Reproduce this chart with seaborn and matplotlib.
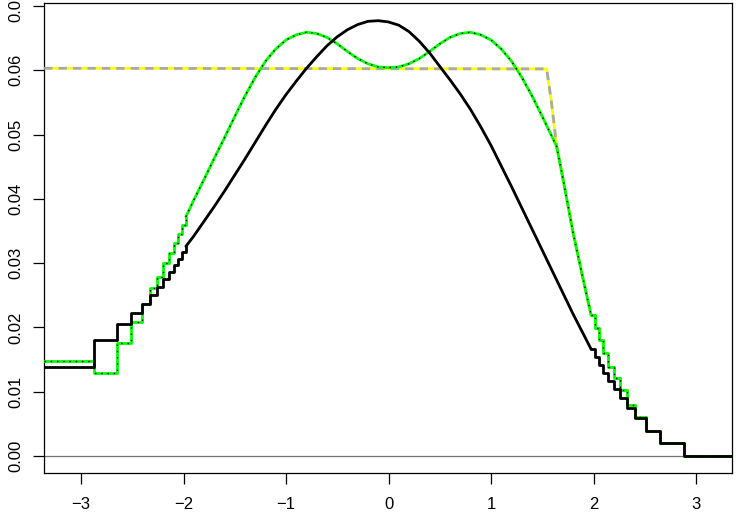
import matplotlib
matplotlib.use("Agg")
import matplotlib.pyplot as plt
import numpy as np
import seaborn as sns

# step knots in the tails
left_knots = [-3.36, -2.878, -2.652, -2.512, -2.409, -2.326, -2.257, -2.197,
              -2.144, -2.097, -2.054, -2.014, -1.977]
right_knots = [1.977, 2.014, 2.054, 2.097, 2.144, 2.197, 2.257, 2.326,
               2.409, 2.512, 2.652, 2.878, 3.36]

black_left = [0.0139, 0.0180, 0.0205, 0.0222, 0.0237, 0.0250, 0.0263, 0.0275,
              0.0286, 0.0297, 0.0307, 0.0317, 0.0326]
black_right = [0.0166, 0.0154, 0.0142, 0.0129, 0.0117, 0.0104, 0.0091, 0.0075,
               0.0059, 0.0039, 0.0020, 0.0, 0.0]
green_left = [0.0148, 0.0129, 0.0175, 0.0209, 0.0237, 0.0261, 0.0279, 0.0300,
              0.0315, 0.0331, 0.0346, 0.0359, 0.0372]
green_right = [0.0219, 0.0199, 0.0180, 0.0160, 0.0139, 0.0121, 0.0102, 0.0079,
               0.0060, 0.0039, 0.0020, 0.0, 0.0]

# smooth middle part
black_mid_x = [-1.977, -1.9, -1.8, -1.7, -1.6, -1.5, -1.4, -1.3, -1.2, -1.1, -1.0,
               -0.9, -0.8, -0.7, -0.6, -0.5, -0.4, -0.3, -0.2, -0.1, 0.0,
               0.1, 0.2, 0.3, 0.4, 0.5, 0.6, 0.7, 0.8, 0.9, 1.0,
               1.1, 1.2, 1.3, 1.4, 1.5, 1.6, 1.7, 1.8, 1.9, 1.977]
black_mid_y = [0.0326, 0.0342, 0.0365, 0.0388, 0.0412, 0.0437, 0.0462, 0.0488, 0.0514, 0.0539, 0.0562,
               0.0583, 0.0603, 0.0621, 0.0638, 0.0652, 0.0663, 0.0671, 0.0676, 0.0677, 0.0675,
               0.0670, 0.0660, 0.0645, 0.0627, 0.0606, 0.0585, 0.0563, 0.0539, 0.0512, 0.0483,
               0.0451, 0.0419, 0.0386, 0.0353, 0.0320, 0.0287, 0.0254, 0.0221, 0.0190, 0.0166]

green_mid_x = [-1.977, -1.9, -1.8, -1.7, -1.6, -1.5, -1.4, -1.3, -1.2, -1.1, -1.0,
               -0.9, -0.8, -0.7, -0.6, -0.5, -0.4, -0.3, -0.2, -0.1, 0.0,
               0.1, 0.2, 0.3, 0.4, 0.5, 0.6, 0.7, 0.8, 0.9, 1.0,
               1.1, 1.2, 1.3, 1.4, 1.5, 1.6, 1.641, 1.7, 1.8, 1.9, 1.977]
green_mid_y = [0.0372, 0.0398, 0.0430, 0.0463, 0.0495, 0.0528, 0.0560, 0.0589, 0.0614, 0.0633, 0.0647,
               0.0655, 0.0659, 0.0657, 0.0651, 0.0641, 0.0629, 0.0618, 0.0610, 0.0605, 0.0604,
               0.0605, 0.0610, 0.0618, 0.0629, 0.0641, 0.0651, 0.0657, 0.0659, 0.0655, 0.0647,
               0.0633, 0.0614, 0.0589, 0.0560, 0.0528, 0.0495, 0.0481, 0.0433, 0.0348, 0.0274, 0.0219]

# flat part of the yellow curve, then it follows the green one
yellow_head_x = [-3.36, 1.543, 1.59, 1.641]
yellow_head_y = [0.0603, 0.0602, 0.0550, 0.0481]

yticks = [0.0, 0.01, 0.02, 0.03, 0.04, 0.05, 0.06, 0.07]
xticks = [-3, -2, -1, 0, 1, 2, 3]

sns.set_style("ticks")
plt.rcParams['font.family'] = ['Liberation Sans', 'DejaVu Sans']

fig = plt.figure(figsize=(7.36, 5.18), dpi=100)
ax = fig.add_axes([44 / 736, 1 - 473 / 518, 688 / 736, 470 / 518])

ax.axhline(0, color='0.45', lw=0.9, zorder=1)

tail_x = [x for x in green_mid_x if x > 1.641]
tail_y = [y for x, y in zip(green_mid_x, green_mid_y) if x > 1.641]
yx = yellow_head_x + tail_x
yy = yellow_head_y + tail_y


def draw(xs, ys, steps=False, **kw):
    if steps:
        kw['drawstyle'] = 'steps-post'
    sns.lineplot(x=xs, y=ys, sort=False, estimator=None, ax=ax, **kw)


# yellow with grey dashes
for steps, xs, ys in [(False, yx, yy), (True, right_knots, green_right)]:
    draw(xs, ys, steps, color='#ffff00', lw=2, zorder=2)
    draw(xs, ys, steps, color='#a9a9a9', lw=2, dashes=(3, 2.2), zorder=3)

# green with black dots
for steps, xs, ys in [(True, left_knots, green_left), (False, green_mid_x, green_mid_y),
                      (True, right_knots, green_right)]:
    draw(xs, ys, steps, color='#00ff00', lw=2, zorder=4)
    draw(xs, ys, steps, color='black', lw=1, dashes=(1, 3.5), zorder=5)

# black solid
for steps, xs, ys in [(True, left_knots, black_left), (False, black_mid_x, black_mid_y),
                      (True, right_knots, black_right)]:
    draw(xs, ys, steps, color='black', lw=2, zorder=6)

ax.set_xlim(-3.361, 3.351)
ax.set_ylim(-0.00264, 0.07045)
ax.set_xticks(xticks)
ax.set_xticklabels([f'{t:d}'.replace('-', '\u2212') for t in xticks])
ax.set_yticks(yticks)
ax.set_yticklabels([f'{t:.2f}' for t in yticks], rotation=90, va='center')
ax.set_xlabel('')
ax.set_ylabel('')

for s in ax.spines.values():
    s.set_visible(True)
    s.set_color('black')
    s.set_linewidth(0.9)
ax.tick_params(axis='both', direction='out', length=8, width=0.9, color='black',
               labelsize=12, labelcolor='black')
ax.tick_params(axis='x', pad=9.5)
ax.tick_params(axis='y', pad=7)
ax.grid(False)
if ax.get_legend() is not None:
    ax.get_legend().remove()

fig.savefig('out.png', dpi=100)
